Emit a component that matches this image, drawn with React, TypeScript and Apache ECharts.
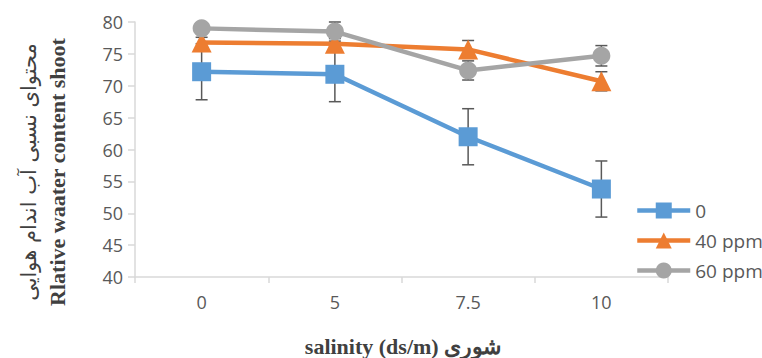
import React, { useEffect, useRef } from "react";
import * as echarts from "echarts";

const categories = ["0", "5", "7.5", "10"];
const seriesNames = ["0", "40 ppm", "60 ppm"];
const values0 = [72.2, 71.8, 62.0, 53.8];
const values40 = [76.8, 76.6, 75.7, 70.7];
const values60 = [79.0, 78.5, 72.4, 74.7];
const err0 = [4.4, 4.3, 4.4, 4.4];
const err40 = [0.8, 0.8, 1.4, 1.5];
const err60 = [0.8, 1.5, 1.5, 1.6];
const yTicks = { min: 40, max: 80, interval: 5 };
const yTitleFa = "محتوای نسبی آب اندام هوایی";
const yTitleEn = "Rlative waater content shoot";
const xTitle = "salinity (ds/m) شوری";

const colors = ["#5B9BD5", "#ED7D31", "#A5A5A5"];

function errData(vals: number[], errs: number[]) {
  return vals.map((v, i) => [i, v - errs[i], v + errs[i]]);
}

function errSeries(vals: number[], errs: number[]) {
  return {
    type: "custom",
    silent: true,
    z: 1,
    data: errData(vals, errs),
    encode: { x: 0, y: [1, 2] },
    renderItem: (params: any, api: any) => {
      const i = api.value(0);
      const lo = api.coord([i, api.value(1)]);
      const hi = api.coord([i, api.value(2)]);
      const x = lo[0];
      const w = 6;
      const style = { stroke: "#595959", lineWidth: 1.5 };
      return {
        type: "group",
        children: [
          { type: "line", shape: { x1: x, y1: lo[1], x2: x, y2: hi[1] }, style },
          { type: "line", shape: { x1: x - w, y1: lo[1], x2: x + w, y2: lo[1] }, style },
          { type: "line", shape: { x1: x - w, y1: hi[1], x2: x + w, y2: hi[1] }, style },
        ],
      };
    },
  };
}

export default function App() {
  const ref = useRef<HTMLDivElement>(null);
  useEffect(() => {
    if (!ref.current) return;
    const chart = echarts.init(ref.current, null, { renderer: "svg" });
    const lineSeries = [values0, values40, values60].map((vals, k) => ({
      name: seriesNames[k],
      type: "line",
      data: vals,
      z: 3 + k,
      symbol: ["rect", "triangle", "circle"][k],
      symbolSize: [19, 20, 18][k],
      lineStyle: { width: 4.5, color: colors[k] },
      itemStyle: { color: colors[k] },
    }));
    chart.setOption({
      animation: false,
      grid: { left: 135, right: 94, top: 22, bottom: 81 },
      xAxis: {
        type: "category",
        data: categories,
        boundaryGap: true,
        axisLine: { lineStyle: { color: "#D9D9D9", width: 1.5 } },
        axisTick: { show: true, length: 6, lineStyle: { color: "#D9D9D9", width: 1.5 } },
        axisLabel: { color: "#595959", fontSize: 18, fontFamily: "Open Sans", margin: 16 },
      },
      yAxis: {
        type: "value",
        min: yTicks.min,
        max: yTicks.max,
        interval: yTicks.interval,
        splitLine: { show: false },
        axisLine: { show: true, lineStyle: { color: "#D9D9D9", width: 1.5 } },
        axisTick: { show: true, length: 7, lineStyle: { color: "#D9D9D9", width: 1.5 } },
        axisLabel: { color: "#595959", fontSize: 18, fontFamily: "Open Sans", margin: 12 },
      },
      legend: {
        orient: "vertical",
        left: 630,
        top: 196,
        itemWidth: 53,
        itemHeight: 20,
        itemGap: 11,
        itemTextGap: 2,
        data: seriesNames,
        lineStyle: { width: 4.5 },
        textStyle: { color: "#595959", fontSize: 19, fontFamily: "Open Sans" },
      },
      graphic: [
        {
          type: "text",
          x: 29,
          y: 172,
          rotation: Math.PI / 2,
          style: {
            text: yTitleFa,
            fill: "#404040",
            font: "21px 'DejaVu Sans'",
            textAlign: "center",
            textVerticalAlign: "middle",
          },
        },
        {
          type: "text",
          x: 57,
          y: 172,
          rotation: Math.PI / 2,
          style: {
            text: yTitleEn,
            fill: "#404040",
            font: "bold 22px 'Liberation Serif'",
            textAlign: "center",
            textVerticalAlign: "middle",
          },
        },
        {
          type: "text",
          x: 403,
          y: 346,
          style: {
            text: xTitle,
            fill: "#404040",
            font: "bold 22px 'Liberation Serif'",
            textAlign: "center",
            textVerticalAlign: "middle",
          },
        },
      ],
      series: [
        errSeries(values0, err0),
        errSeries(values40, err40),
        errSeries(values60, err60),
        ...lineSeries,
      ],
    });
    return () => chart.dispose();
  }, []);
  return (
    <div
      ref={ref}
      style={{ position: "fixed", left: 0, top: 0, width: 762, height: 358, background: "#fff" }}
    />
  );
}
